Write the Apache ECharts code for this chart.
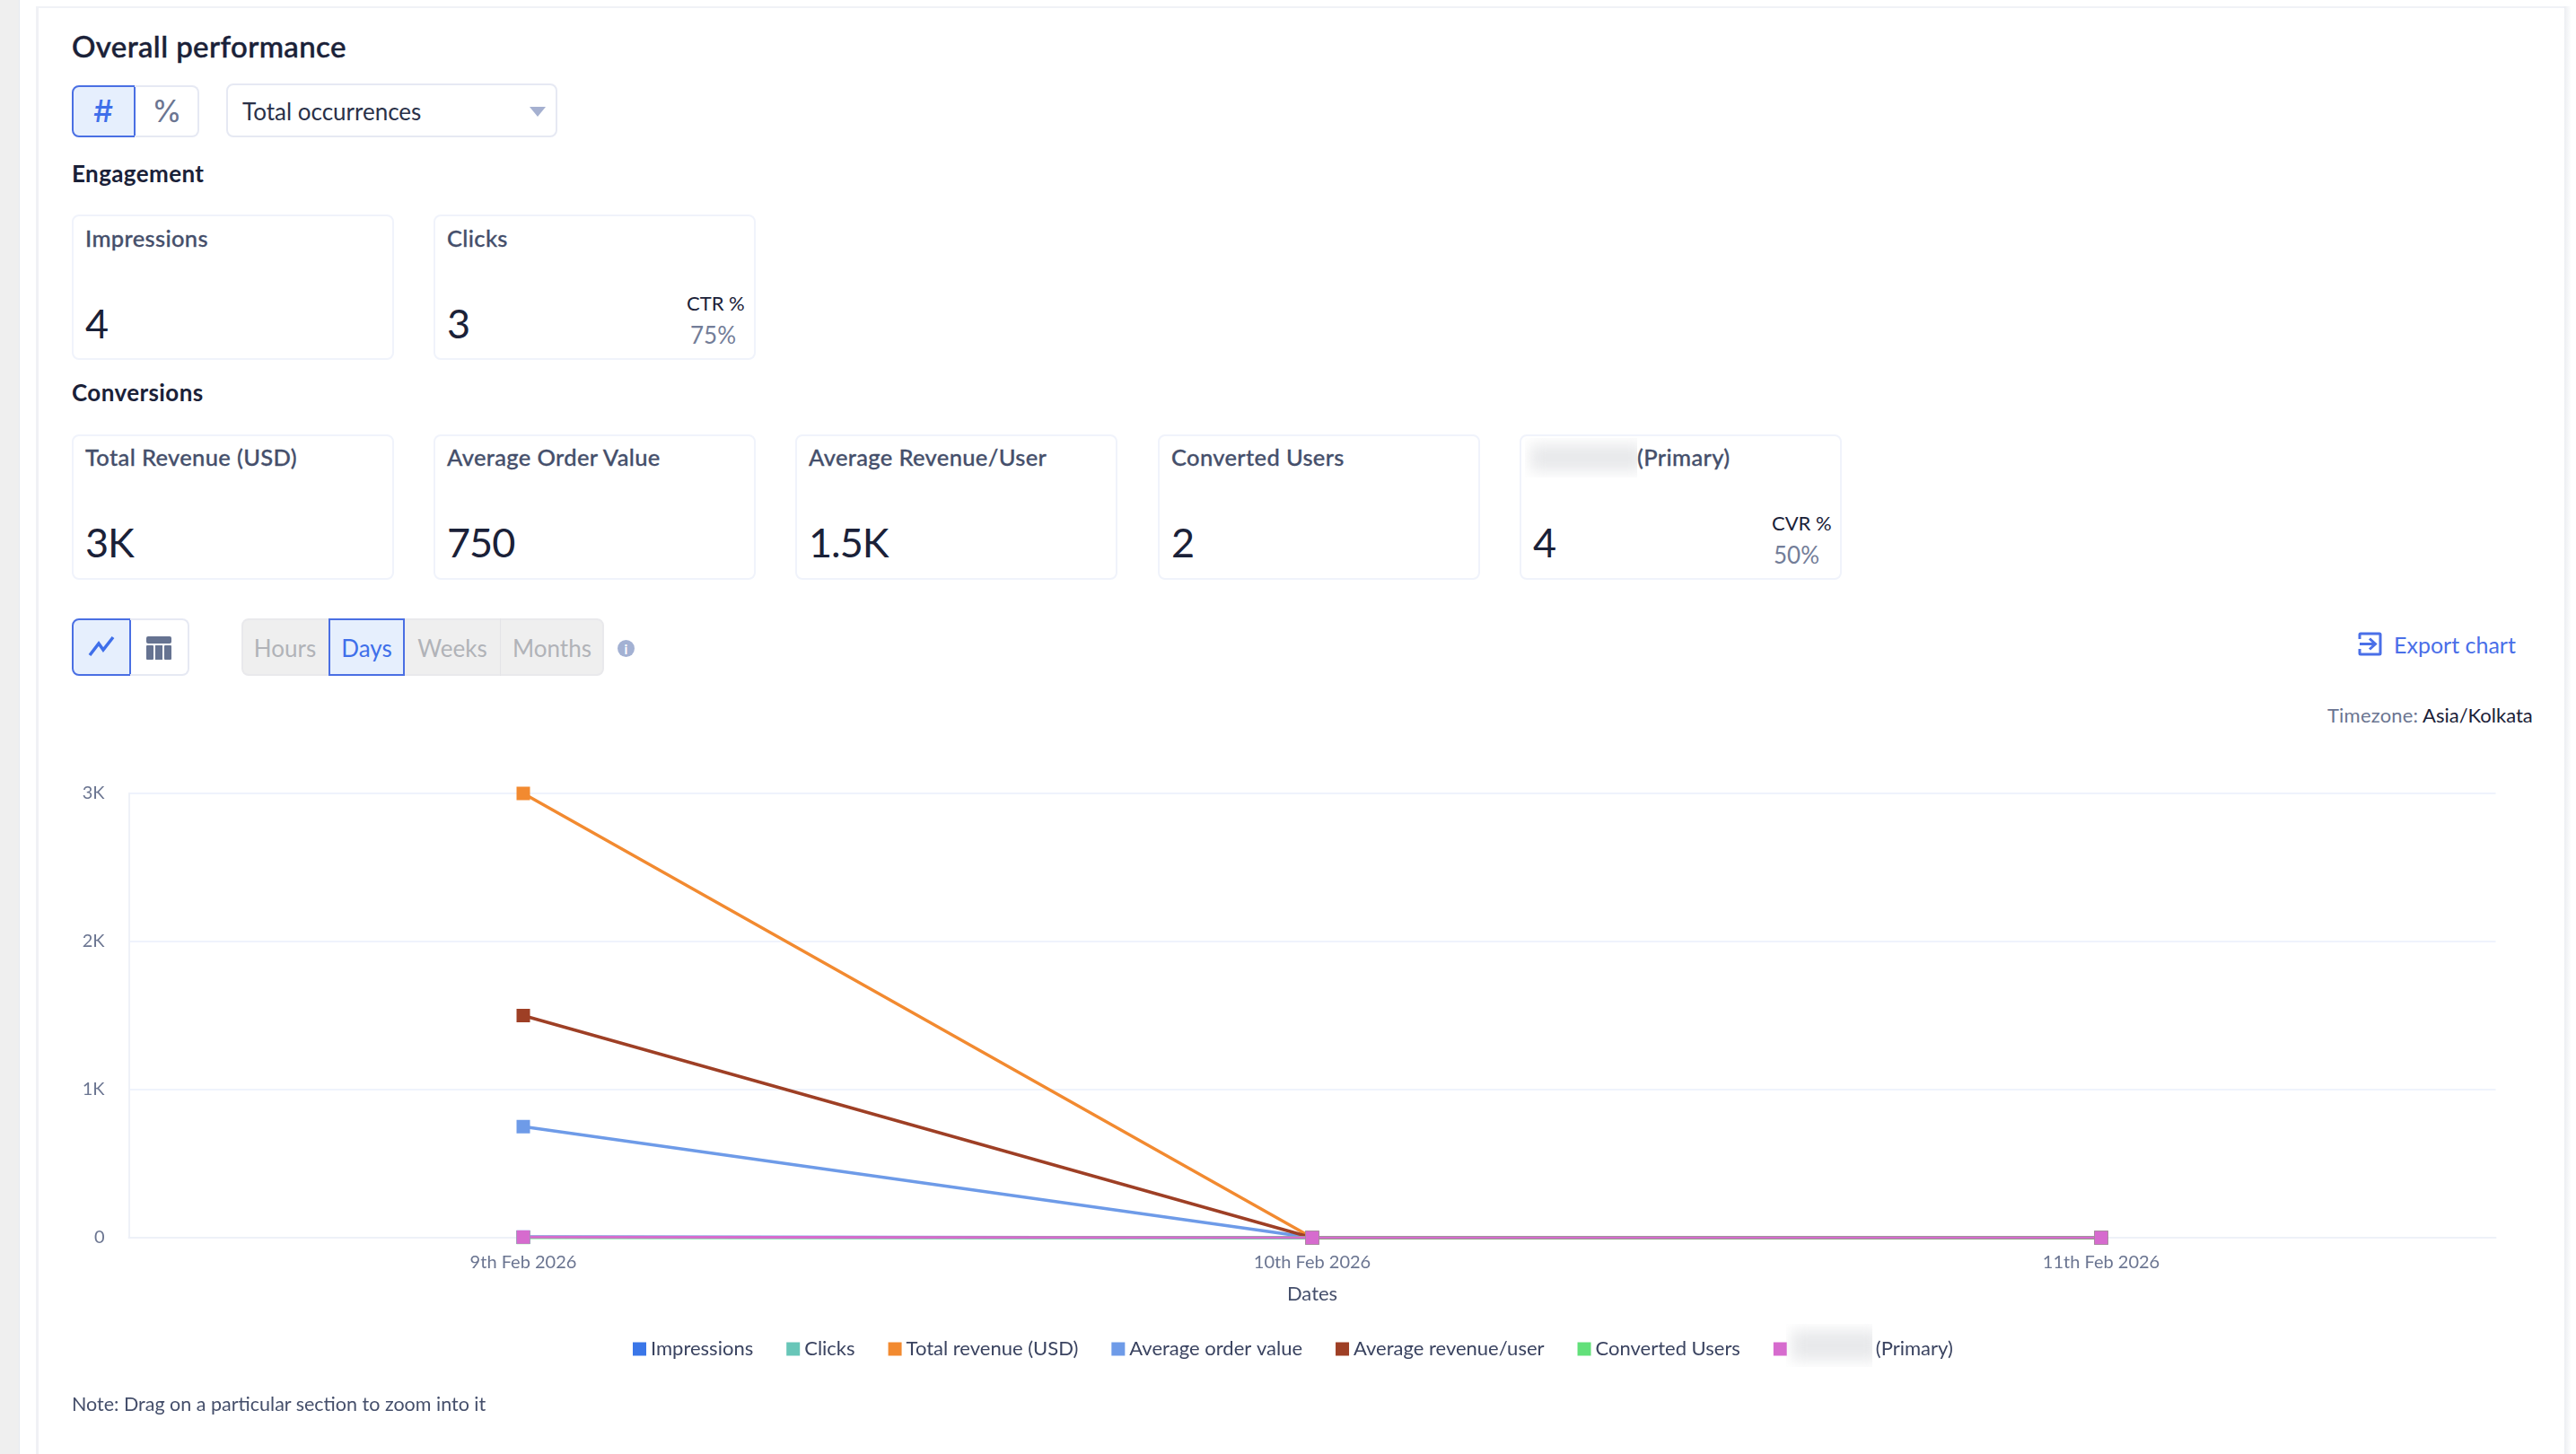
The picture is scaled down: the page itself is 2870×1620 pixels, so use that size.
<!DOCTYPE html>
<html lang="en">
<head>
<meta charset="UTF-8">
<title>Overall performance</title>
<script src="https://cdn.jsdelivr.net/npm/echarts@6/dist/echarts.min.js"></script>
<style>
    html, body { margin: 0; padding: 0; background: #fff; }
    body { width: 2870px; height: 1620px; position: relative; overflow: hidden; font-family: Lato, sans-serif; color: #1a2138; }
    .abs { position: absolute; white-space: nowrap; }
    .t { position: absolute; white-space: nowrap; transform: translateY(-50%); line-height: 1; }
    .lab { font-size: 25.5px; color: #454f6b; font-weight: 500; letter-spacing: 0.35px; -webkit-text-stroke: 0.3px #454f6b; }
    .val { font-size: 45px; color: #1a2138; letter-spacing: -1px; }
    .head { font-size: 26px; font-weight: 700; color: #1a2138; letter-spacing: 0.4px; }
    .small { font-size: 22px; color: #1a2138; }
    .rate { font-size: 26px; color: #737d98; }
    .btn { position: absolute; box-sizing: border-box; }
    #chart { position: absolute; left: 0; top: 840px; width: 2870px; height: 720px; }
</style>
</head>
<body>
<div class="abs" style="left:0;top:0;width:21px;height:1620px;background:#efefef"></div>
<div class="abs" style="left:21px;top:0;width:1px;height:1620px;background:#e6e9ef"></div>
<div class="abs" style="left:40px;top:7px;width:3px;height:1613px;background:#f0f1f5"></div>
<div class="abs" style="left:43px;top:7px;width:2814px;height:2px;background:#f0f2f6"></div>
<div class="abs" style="left:2857px;top:7px;width:8px;height:1613px;background:linear-gradient(to right,#eceef2,#fff)"></div>

<div id="chart"></div>
<div id="ui"></div>

<script>
    var categories = ['9th Feb 2026', '10th Feb 2026', '11th Feb 2026']
    var impressions = [4, 0, 0]
    var clicks = [3, 0, 0]
    var totalRevenue = [3000, 0, 0]
    var avgOrderValue = [750, 0, 0]
    var avgRevenueUser = [1500, 0, 0]
    var convertedUsers = [2, 0, 0]
    var primaryEvent = [4, 0, 0]

    var engagementLabels = ['Impressions', 'Clicks']
    var engagementValues = ['4', '3']
    var conversionLabels = ['Total Revenue (USD)', 'Average Order Value', 'Average Revenue/User', 'Converted Users', '(Primary)']
    var conversionValues = ['3K', '750', '1.5K', '2', '4']
    var granularity = ['Hours', 'Days', 'Weeks', 'Months']

    var ui = document.getElementById('ui')

    function text(str, x, y, cls, style) {
        var d = document.createElement('div')
        d.className = 't ' + (cls || '')
        d.style.left = x + 'px'
        d.style.top = y + 'px'
        if (style) d.style.cssText += ';' + style
        d.textContent = str
        ui.appendChild(d)
        return d
    }
    function box(x, y, w, h, style, html) {
        var d = document.createElement('div')
        d.className = 'btn'
        d.style.cssText = 'left:' + x + 'px;top:' + y + 'px;width:' + w + 'px;height:' + h + 'px;' + style
        if (html) d.innerHTML = html
        ui.appendChild(d)
        return d
    }
    function blurPatch(x, y, w, h) {
        box(x, y, w, h, 'overflow:hidden;z-index:3', '<div style="position:absolute;left:6px;right:-8px;top:7px;bottom:7px;background:#e8e9eb;filter:blur(8px)"></div>')
    }

    text('Overall performance', 80, 51, '', 'font-size:33px;font-weight:500;letter-spacing:0.4px;-webkit-text-stroke:0.5px #1a2138')

    // count / percent switch
    box(80, 95, 71, 58, 'background:#e6effd;border:2px solid #4a6fe3;border-radius:8px 0 0 8px')
    box(150, 95, 72, 58, 'border:2px solid #e6e9f3;border-left:0;border-radius:0 8px 8px 0')
    text('#', 115, 124, '', 'font-family:Inter;font-size:34px;font-weight:500;color:#3f6fea;transform:translate(-50%,-50%)')
    text('%', 186, 124, '', 'font-family:Inter;font-size:34px;color:#6b7591;font-weight:400;transform:translate(-50%,-50%)')
    box(252, 93, 369, 60, 'border:2px solid #e6e9f3;border-radius:8px')
    text('Total occurrences', 270, 124, '', 'font-size:26px;color:#2a3148')
    box(590, 119, 0, 0, 'border-left:9px solid transparent;border-right:9px solid transparent;border-top:11px solid #a5b0d0')

    text('Engagement', 80, 193, 'head')
    text('Conversions', 80, 437, 'head')

    var row1X = [80, 483]
    engagementLabels.forEach(function (name, i) {
        box(row1X[i], 239, 359, 162, 'background:#fff;border:2px solid #f0f3fb;border-radius:8px')
        text(name, row1X[i] + 15, 266, 'lab')
        text(engagementValues[i], row1X[i] + 15, 360, 'val')
    })
    text('CTR %', 765, 338, 'small')
    text('75%', 769, 373, 'rate')

    var row2X = [80, 483, 886, 1290, 1693]
    conversionLabels.forEach(function (name, i) {
        box(row2X[i], 484, 359, 162, 'background:#fff;border:2px solid #f0f3fb;border-radius:8px')
        text(name, i == 4 ? 1824 : row2X[i] + 15, 510, 'lab')
        text(conversionValues[i], row2X[i] + 15, 604, 'val')
    })
    blurPatch(1699, 488, 125, 44)
    text('CVR %', 1974, 583, 'small')
    text('50%', 1976, 618, 'rate')

    // line / table switch
    box(80, 689, 66, 64, 'background:#e6effd;border:2px solid #4a6fe3;border-radius:8px 0 0 8px',
        '<svg width="62" height="60" style="position:absolute;left:0;top:0"><polyline points="18,39 28,26 33,33 44,19" fill="none" stroke="#3f6fea" stroke-width="3.5"/></svg>')
    box(145, 689, 66, 64, 'border:2px solid #e6e9f3;border-left:0;border-radius:0 8px 8px 0',
        '<svg width="62" height="60" style="position:absolute;left:0;top:0"><rect x="18" y="18" width="28" height="8" rx="2" fill="#667391"/><rect x="18" y="28" width="8" height="16" rx="1" fill="#667391"/><rect x="28" y="28" width="8" height="16" fill="#667391"/><rect x="38" y="28" width="8" height="16" rx="1" fill="#667391"/></svg>')

    // hours / days / weeks / months
    var granX = [269, 366, 451, 557, 673]
    box(269, 689, 404, 64, 'background:#efefef;border:2px solid #e9e9ec;border-radius:8px')
    box(557, 689, 1, 64, 'background:#e4e4e7')
    box(366, 689, 85, 64, 'background:#e6effd;border:2px solid #4a6fe3')
    granularity.forEach(function (name, i) {
        var mid = (granX[i] + granX[i + 1]) / 2
        text(name, mid, 722, '', 'font-size:26px;transform:translate(-50%,-50%);color:' + (i == 1 ? '#3f6fea' : '#b1b3b8'))
    })
    box(688, 713, 19, 19, 'background:#a3b1d3;border-radius:50%')
    text('i', 697.5, 722.5, '', 'font-size:15px;font-weight:700;color:#fff;transform:translate(-50%,-50%)')

    // export
    box(2627, 704, 27, 27, '', '<svg width="27" height="27" style="position:absolute;left:0;top:0"><path d="M2 8 V3 Q2 2 3 2 H24 Q25 2 25 3 V24 Q25 25 24 25 H3 Q2 25 2 24 V19" fill="none" stroke="#4a6fe8" stroke-width="3"/><path d="M2 13.5 H19 M13 7.5 L19.5 13.5 L13 19.5" fill="none" stroke="#4a6fe8" stroke-width="3"/></svg>')
    text('Export chart', 2667, 718, '', 'font-size:25px;color:#4a6fe8')
    text('Timezone:', 2593, 797, '', 'font-size:22px;color:#6b7591;letter-spacing:0.2px')
    text('Asia/Kolkata', 2699, 797, '', 'font-size:22px;color:#1a2138')

    text('Note: Drag on a particular section to zoom into it', 80, 1565, '', 'font-size:21.5px;color:#454f6b')
    blurPatch(1990, 1475, 96, 48)

    var seriesList = [
        { name: 'Impressions', data: impressions, color: '#3a76e8' },
        { name: 'Clicks', data: clicks, color: '#68c6b8' },
        { name: 'Total revenue (USD)', data: totalRevenue, color: '#f28a30' },
        { name: 'Average order value', data: avgOrderValue, color: '#6e9be8' },
        { name: 'Average revenue/user', data: avgRevenueUser, color: '#9e3f25' },
        { name: 'Converted Users', data: convertedUsers, color: '#62e07a' },
        { name: '(Primary)', data: primaryEvent, color: '#d66bce' }
    ]

    var myChart = echarts.init(document.getElementById('chart'))
    var option = {
        animation: false,
        grid: { left: 143.5, right: 89.5, top: 44, bottom: 181 },
        legend: {
            left: 700,
            top: 647,
            icon: 'rect',
            itemWidth: 15,
            itemHeight: 15,
            itemGap: 37,
            textStyle: {
                fontFamily: 'Lato',
                fontSize: 22,
                color: '#3a4360',
                rich: { gap: { width: 94 }, t: { fontFamily: 'Lato', fontSize: 22, color: '#3a4360' } }
            },
            formatter: function (name) {
                return name == '(Primary)' ? '{gap|}{t|(Primary)}' : name
            }
        },
        xAxis: {
            type: 'category',
            data: categories,
            name: 'Dates',
            nameLocation: 'middle',
            nameGap: 52,
            nameTextStyle: { fontFamily: 'Lato', fontSize: 22, color: '#454f6b' },
            axisTick: { show: false },
            axisLine: { lineStyle: { color: '#eef1f8', width: 2 } },
            axisLabel: { margin: 18, fontFamily: 'Lato', fontSize: 20, color: '#6b7591' }
        },
        yAxis: {
            type: 'value',
            min: 0,
            max: 3000,
            interval: 1000,
            axisLine: { show: true, lineStyle: { color: '#eef1f8', width: 2 } },
            axisTick: { show: false },
            splitLine: { lineStyle: { color: '#eff3fc', width: 2 } },
            axisLabel: {
                margin: 27,
                padding: [3, 0, 0, 0],
                fontFamily: 'Lato',
                fontSize: 20,
                color: '#6b7591',
                formatter: function (v) { return v == 0 ? '0' : v / 1000 + 'K' }
            }
        },
        series: seriesList.map(function (s) {
            return {
                name: s.name,
                type: 'line',
                data: s.data,
                symbol: 'rect',
                symbolSize: 15,
                showSymbol: true,
                itemStyle: { color: s.color },
                lineStyle: { color: s.color, width: s.name == '(Primary)' ? 3 : 3.5 }
            }
        })
    }
    myChart.setOption(option)
</script>
</body>
</html>
